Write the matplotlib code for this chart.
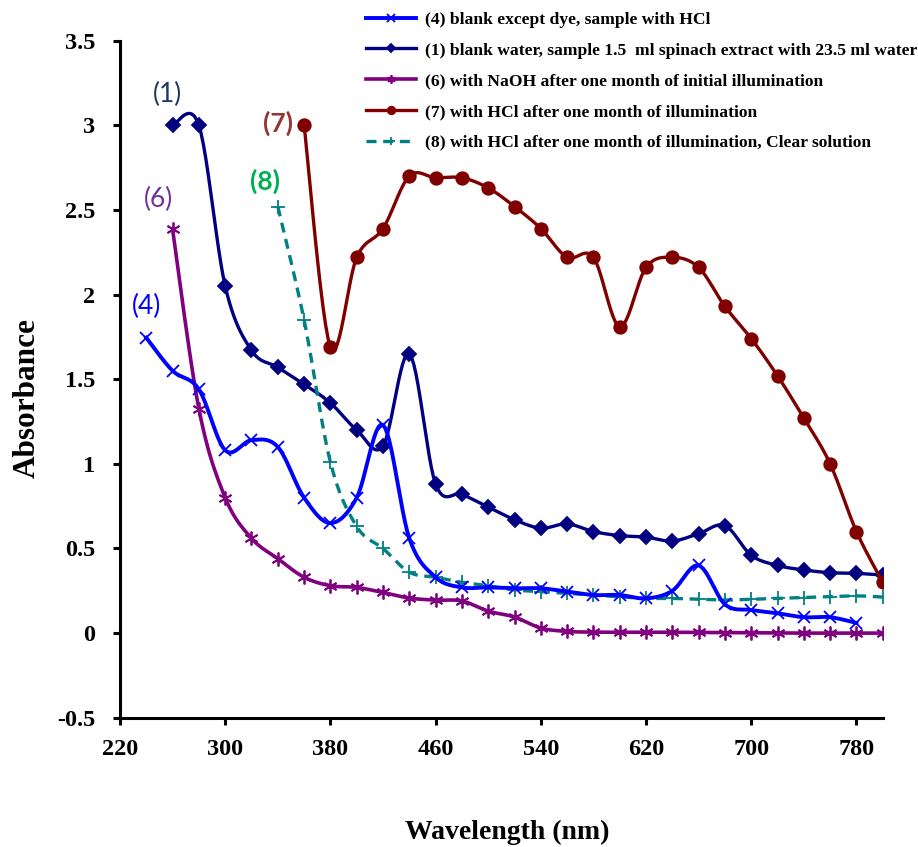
import numpy as np
import matplotlib
matplotlib.use('Agg')
import matplotlib.pyplot as plt

# wavelengths (nm), 20 nm steps
wl_4 = list(range(240, 781, 20))
abs_4 = [1.745, 1.55, 1.44, 1.08, 1.14, 1.10, 0.80, 0.65, 0.80, 1.23, 0.56, 0.33,
         0.27, 0.27, 0.265, 0.265, 0.245, 0.225, 0.225, 0.205, 0.25, 0.40, 0.17,
         0.136, 0.117, 0.094, 0.094, 0.06]

wl_1 = list(range(260, 801, 20))
abs_1 = [3.0, 3.0, 2.05, 1.67, 1.57, 1.47, 1.36, 1.20, 1.105, 1.65, 0.88, 0.82,
         0.745, 0.67, 0.62, 0.645, 0.60, 0.576, 0.567, 0.544, 0.587, 0.635, 0.46,
         0.40, 0.373, 0.357, 0.353, 0.343]

wl_6 = list(range(260, 801, 20))
abs_6 = [2.385, 1.325, 0.80, 0.56, 0.44, 0.33, 0.28, 0.27, 0.24, 0.207, 0.195, 0.19,
         0.13, 0.095, 0.03, 0.01, 0.006, 0.005, 0.005, 0.005, 0.004, 0.003, 0.002,
         0.001, 0.0, 0.0, 0.0, 0.0]

wl_7 = list(range(360, 801, 20))
abs_7 = [3.0, 1.69, 2.22, 2.39, 2.70, 2.69, 2.69, 2.63, 2.52, 2.39, 2.22, 2.22,
         1.81, 2.16, 2.22, 2.16, 1.93, 1.74, 1.52, 1.27, 1.0, 0.60, 0.30]

wl_8 = list(range(340, 801, 20))
abs_8 = [2.52, 1.85, 1.01, 0.63, 0.50, 0.36, 0.33, 0.30, 0.28, 0.255, 0.245, 0.235,
         0.225, 0.215, 0.205, 0.205, 0.20, 0.195, 0.20, 0.205, 0.21, 0.215, 0.22,
         0.213]

labels = ['(4) blank except dye, sample with HCl',
          '(1) blank water, sample 1.5  ml spinach extract with 23.5 ml water',
          '(6) with NaOH after one month of initial illumination',
          '(7) with HCl after one month of illumination',
          '(8) with HCl after one month of illumination, Clear solution']

N = 12  # samples per segment


def smooth(x, y, n=N):
    """Catmull-Rom style smoothing like Excel's smoothed line"""
    p = np.column_stack([x, y]).astype(float)
    p = np.vstack([p[0], p, p[-1]])
    out = []
    t = np.linspace(0, 1, n, endpoint=False)[:, None]
    for i in range(1, len(p) - 2):
        p0, p1, p2, p3 = p[i - 1], p[i], p[i + 1], p[i + 2]
        c1 = p1 + (p2 - p0) / 6
        c2 = p2 - (p3 - p1) / 6
        seg = ((1 - t) ** 3) * p1 + 3 * ((1 - t) ** 2) * t * c1 + 3 * (1 - t) * t ** 2 * c2 + t ** 3 * p2
        out.append(seg)
    out.append(p[-2][None, :])
    out = np.vstack(out)
    return out[:, 0], out[:, 1]


fig = plt.figure(figsize=(9.18, 8.47), dpi=100)
ax = fig.add_axes([0.1307, 0.1526, 0.8309, 0.7994])

series = [
    (wl_4, abs_4, '#0000FF', 'x', 9, 2.8, '-', 4),
    (wl_1, abs_1, '#000080', 'D', 7, 2.4, '-', 3),
    (wl_6, abs_6, '#800080', (6, 2, 0), 10, 2.6, '-', 3),
    (wl_7, abs_7, '#800000', 'o', 9, 2.4, '-', 3),
    (wl_8, abs_8, '#008080', '+', 10, 2.4, (0, (3, 2)), 3),
]

handles = []
for (x, y, c, m, ms, lw, ls, z), lab in zip(series, labels):
    sx, sy = smooth(x, y)
    h, = ax.plot(sx, sy, color=c, lw=lw, ls=ls, marker=m, ms=ms, mew=1.3,
                 markevery=slice(0, None, N), label=lab, zorder=z)
    handles.append(h)

ax.set_xlim(220, 800)
ax.set_ylim(-0.5, 3.5)
ax.set_xticks(np.arange(220, 781, 80))
ax.set_yticks(np.arange(-0.5, 3.51, 0.5))
ax.set_yticklabels(['-0.5', '0', '0.5', '1', '1.5', '2', '2.5', '3', '3.5'])

for s in ['top', 'right']:
    ax.spines[s].set_visible(False)
for s in ['left', 'bottom']:
    ax.spines[s].set_linewidth(2.2)
ax.tick_params(direction='out', length=5, width=2.2)
ax.tick_params(axis='y', pad=13)
ax.tick_params(axis='x', pad=10)
for lab in ax.get_xticklabels() + ax.get_yticklabels():
    lab.set_fontfamily('Liberation Serif')
    lab.set_fontweight('bold')
    lab.set_fontsize(17.5)

fig.text(507 / 918, 1 - 832 / 847, 'Wavelength (nm)', fontfamily='Liberation Serif',
         fontweight='bold', fontsize=20, ha='center', va='center')
fig.text(27 / 918, 1 - 398 / 847, 'Absorbance', fontfamily='Liberation Serif',
         fontweight='bold', fontsize=22.5, ha='center', va='center', rotation=90)

# curve labels
lab_kw = dict(fontsize=19, fontfamily='Lato', ha='center', va='center')
ax.text(256, 3.18, '(1)', color='#1F3864', **lab_kw)
ax.text(249, 2.56, '(6)', color='#7030A0', **lab_kw)
ax.text(240, 1.93, '(4)', color='#0000FF', **lab_kw)
ax.text(330, 2.67, '(8)', color='#00B050', fontweight='bold', **lab_kw)
ax.text(340, 3.01, '(7)', color='#943634', fontweight='bold', **lab_kw)

fig.legend(handles=handles, loc='upper left', bbox_to_anchor=(0.382, 1.005),
           frameon=False, prop={'family': 'Liberation Serif', 'weight': 'bold', 'size': 12.6},
           handlelength=2.85, labelspacing=0.83, handletextpad=0.5, markerscale=0.6)

fig.savefig('out.png', dpi=100)
